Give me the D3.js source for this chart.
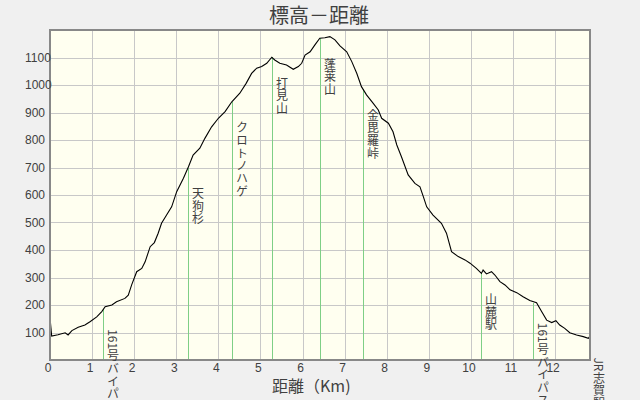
<!DOCTYPE html>
<html><head><meta charset="utf-8">
<script src="https://cdn.jsdelivr.net/npm/d3@7"></script>
<style>
html,body{margin:0;padding:0;background:#f0f0f0;overflow:hidden;}
svg{display:block;}
text{font-family:"Noto Sans CJK JP","Noto Sans",sans-serif;fill:#404040;-webkit-font-smoothing:antialiased;}
</style></head><body>
<svg id="c" width="640" height="400"></svg>
<script>
const chartTitle = "標高－距離";
const xAxisTitle = "距離（Km)";
const xTicks = [0,1,2,3,4,5,6,7,8,9,10,11,12];
const yTicks = [100,200,300,400,500,600,700,800,900,1000,1100];
const yMax = 1200;

// profile: distance (km) and elevation (m)
const distances = [0.00,0.04,0.19,0.36,0.43,0.52,0.67,0.83,0.95,1.11,1.23,1.31,1.47,1.58,1.78,1.86,1.94,2.06,2.18,2.26,2.38,2.48,2.57,2.65,2.77,2.89,3.01,3.17,3.29,3.40,3.56,3.68,3.84,4.00,4.16,4.32,4.51,4.66,4.79,4.91,5.03,5.15,5.27,5.34,5.46,5.62,5.78,5.90,5.98,6.06,6.18,6.29,6.41,6.53,6.65,6.77,6.89,7.05,7.17,7.29,7.40,7.52,7.68,7.80,7.88,8.04,8.15,8.24,8.35,8.51,8.67,8.79,8.87,8.95,9.10,9.30,9.42,9.54,9.70,9.86,9.98,10.13,10.25,10.29,10.37,10.49,10.57,10.69,10.81,10.93,11.09,11.24,11.40,11.56,11.68,11.80,11.92,12.02,12.11,12.23,12.35,12.51,12.67,12.79,12.83];
const elevations = [153,87,92,99,91,107,119,127,139,157,176,194,200,212,224,236,273,321,333,357,412,427,461,497,527,557,612,661,703,745,770,806,848,879,903,939,970,1006,1042,1061,1067,1079,1101,1091,1079,1073,1057,1067,1079,1109,1121,1145,1170,1172,1176,1164,1142,1121,1085,1042,994,964,933,909,879,861,830,782,739,673,642,630,594,557,527,497,461,394,376,364,352,333,315,327,313,321,309,285,273,255,245,230,216,208,176,145,136,143,127,115,99,91,85,79,87];

// landmarks
const landmarkNames = ["161号バイパス","天狗杉","クロトノハゲ","打見山","蓬莱山","金毘羅峠","山麓駅","161号バイパス","JR志賀駅"];
const landmarkDistances = [1.26,3.29,4.32,5.27,6.41,7.44,10.25,11.48,12.81];
const landmarkElevations = [185,700,939,1101,1170,985,315,208,82];

const M = {left:50, right:590, top:30, bottom:360};
const svg = d3.select("#c");

const x = d3.scaleLinear().domain([0, distances[distances.length-1]]).range([M.left, M.right]);
const y = d3.scaleLinear().domain([0, yMax]).range([M.bottom, M.top]);

// plot background
svg.append("rect").attr("x",M.left).attr("y",M.top)
  .attr("width",M.right-M.left).attr("height",M.bottom-M.top)
  .attr("fill","#fffff0");

// grid
const grid = svg.append("g").attr("shape-rendering","crispEdges");
grid.selectAll("line.v").data(xTicks.filter(d=>d>0)).join("line")
  .attr("x1",d=>Math.round(x(d))+0.5).attr("x2",d=>Math.round(x(d))+0.5)
  .attr("y1",M.top).attr("y2",M.bottom)
  .attr("stroke","#c8c8c8").attr("stroke-width",1);
grid.selectAll("line.h").data(yTicks).join("line")
  .attr("y1",d=>Math.round(y(d))+0.5).attr("y2",d=>Math.round(y(d))+0.5)
  .attr("x1",M.left).attr("x2",M.right)
  .attr("stroke","#c8c8c8").attr("stroke-width",1);

// landmark lines
svg.append("g").attr("shape-rendering","crispEdges")
  .selectAll("line").data(landmarkDistances).join("line")
  .attr("x1",d=>Math.round(x(d))+0.5).attr("x2",d=>Math.round(x(d))+0.5)
  .attr("y1",(d,i)=>y(landmarkElevations[i])).attr("y2",M.bottom)
  .attr("stroke","#7fcf86").attr("stroke-width",1);

// profile
const line = d3.line().x((d,i)=>x(distances[i])).y(d=>y(d));
svg.append("path").datum(elevations).attr("d",line)
  .attr("fill","none").attr("stroke","#000").attr("stroke-width",1.1);

// frame
svg.append("rect").attr("x",M.left).attr("y",M.top)
  .attr("width",M.right-M.left).attr("height",M.bottom-M.top)
  .attr("fill","none").attr("stroke","#888").attr("stroke-width",2);

// axes
const xAxis = d3.axisBottom(x).tickValues(xTicks).tickSize(0).tickPadding(3).tickFormat(d3.format("d"));
const gx = svg.append("g").attr("transform",`translate(0,${M.bottom})`).call(xAxis);
gx.select(".domain").remove();
gx.selectAll("text").attr("dx",-2.5).style("font-size","12px")
  .style("font-family","'Liberation Sans',sans-serif").attr("fill","#333");

const yAxis = d3.axisLeft(y).tickValues(yTicks).tickSize(0).tickFormat(d3.format("d"));
const gy = svg.append("g").attr("transform",`translate(${M.left},0)`).call(yAxis);
gy.select(".domain").remove();
gy.selectAll("text").attr("x",25-M.left).attr("text-anchor","start")
  .style("font-size","12px").style("font-family","'Liberation Sans',sans-serif").attr("fill","#333");

// titles
svg.append("text").attr("x",319).attr("y",23).attr("text-anchor","middle")
  .style("font-size","20px").text(chartTitle);
svg.append("text").attr("x",272).attr("y",392).attr("text-anchor","start")
  .style("font-size","16px").text(xAxisTitle);

// vertical landmark labels: one vertical text per character (latin runs kept together)
const adv = 12.7;
landmarkNames.forEach((name,i)=>{
  const cx = Math.round(x(landmarkDistances[i])) + 10;
  let top = y(landmarkElevations[i]) + 20;
  const g = svg.append("g");
  const runs = name.match(/[\x00-\x7F]+|[^\x00-\x7F]/g);
  runs.forEach(r=>{
    const t = g.append("text").attr("x",cx).attr("y",top)
      .style("writing-mode","vertical-rl")
      .style("font-size","12px").attr("fill","#333").text(r);
    if (/^[\x00-\x7F]+$/.test(r)) {
      top += t.node().getComputedTextLength() + 0.5;
    } else {
      top += adv;
    }
  });
});
</script>
</body></html>
